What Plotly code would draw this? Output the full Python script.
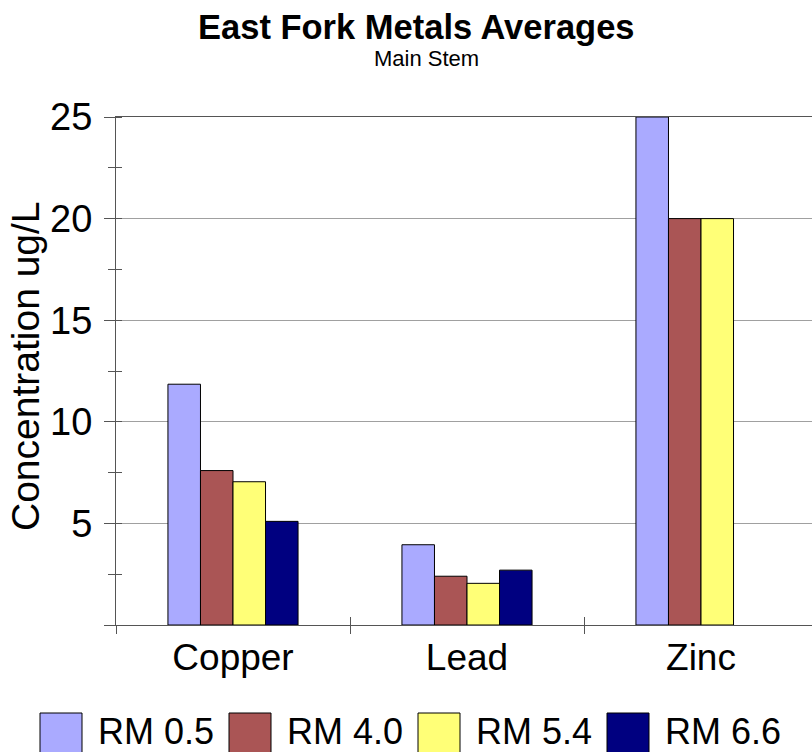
import plotly.graph_objects as go

# Averages of metal concentrations (ug/L) at each river-mile station
metals = ["Copper", "Lead", "Zinc"]
stations = ["RM 0.5", "RM 4.0", "RM 5.4", "RM 6.6"]
rm_0_5 = [11.85, 3.95, 25.0]
rm_4_0 = [7.6, 2.4, 20.0]
rm_5_4 = [7.05, 2.05, 20.0]
rm_6_6 = [5.1, 2.7, None]
colors = ["#AAAAFF", "#AA5555", "#FFFF77", "#000080"]

y_ticks = [0, 5, 10, 15, 20, 25]
y_tick_text = ["", "5", "10", "15", "20", "25"]

FONT = "Liberation Sans, Arial, sans-serif"
W, H = 812, 752
ML, MR, MT, MB = 116, 0, 117, 127
PW = W - ML - MR
PH = H - MT - MB


def px_x(px):
    return (px - ML) / PW


def px_y(py):
    return (H - MB - py) / PH


fig = go.Figure()
for name, vals, col in zip(stations, [rm_0_5, rm_4_0, rm_5_4, rm_6_6], colors):
    fig.add_trace(go.Bar(
        x=metals, y=vals, name=name,
        marker=dict(color=col, line=dict(color="#000000", width=1)),
        showlegend=False,
    ))

# helper trace so the overlay axes carry the same categories
fig.add_trace(go.Scatter(
    x=metals, y=[None] * len(metals), xaxis="x2", yaxis="y2",
    mode="markers", showlegend=False, hoverinfo="skip",
))

n_cat = len(metals)
x_end = -0.5 + n_cat * PW / (n_cat * 234.0)

fig.update_layout(
    width=W, height=H,
    margin=dict(l=ML, r=MR, t=MT, b=MB),
    paper_bgcolor="white", plot_bgcolor="white",
    font=dict(family=FONT, color="#000000"),
    barmode="group", bargap=0.444, bargroupgap=0,
    xaxis=dict(
        type="category", range=[-0.5, x_end],
        tickson="boundaries", ticks="outside", ticklen=8, tickcolor="#555555",
        showline=True, linecolor="#555555", linewidth=1, mirror=True,
        showgrid=False, tickfont=dict(size=37, family=FONT),
        ticklabelstandoff=0,
    ),
    yaxis=dict(
        range=[0, 25], tickvals=y_ticks, ticktext=y_tick_text,
        ticks="outside", ticklen=11, tickcolor="#555555",
        showline=True, linecolor="#555555", linewidth=1,
        showgrid=True, gridcolor="#A0A0A0", gridwidth=1,
        zeroline=False,
        minor=dict(dtick=2.5, ticks="outside", ticklen=7, tickcolor="#555555", showgrid=False),
        tickfont=dict(size=38, family=FONT),
        ticklabelstandoff=4,
    ),
    xaxis2=dict(
        type="category", overlaying="x", matches="x", side="bottom",
        tickson="boundaries", ticks="inside", ticklen=8, tickcolor="#555555",
        showticklabels=False, showgrid=False, showline=False,
    ),
    yaxis2=dict(
        overlaying="y", matches="y", side="left", tickvals=y_ticks,
        ticks="", showticklabels=False, showgrid=False, showline=False, zeroline=False,
        minor=dict(dtick=2.5, ticks="inside", ticklen=6, tickcolor="#555555", showgrid=False),
    ),
)

annotations = [
    dict(text="<b>East Fork Metals Averages</b>", x=px_x(416), y=px_y(27),
         font=dict(size=34.5, family=FONT)),
    dict(text="Main Stem", x=px_x(426), y=px_y(59), font=dict(size=22, family=FONT)),
    dict(text="Concentration ug/L", x=px_x(25), y=px_y(366), textangle=-90,
         font=dict(size=39, family=FONT)),
]

# legend row: swatch then label for each station
shapes = []
sw_left = 40
step = 189
for i, (name, col) in enumerate(zip(stations, colors)):
    x0 = sw_left + i * step
    shapes.append(dict(
        type="rect", xref="paper", yref="paper",
        x0=px_x(x0), x1=px_x(x0 + 42), y0=px_y(713), y1=px_y(757),
        fillcolor=col, line=dict(color="#000000", width=1),
    ))
    annotations.append(dict(
        text=name, x=px_x(x0 + 56), y=px_y(731), xanchor="left",
        font=dict(size=36, family=FONT),
    ))

for a in annotations:
    a.setdefault("xref", "paper")
    a.setdefault("yref", "paper")
    a.setdefault("showarrow", False)
    a.setdefault("xanchor", "center")
    a.setdefault("yanchor", "middle")

fig.update_layout(annotations=annotations, shapes=shapes)

fig.write_html("out.html")
